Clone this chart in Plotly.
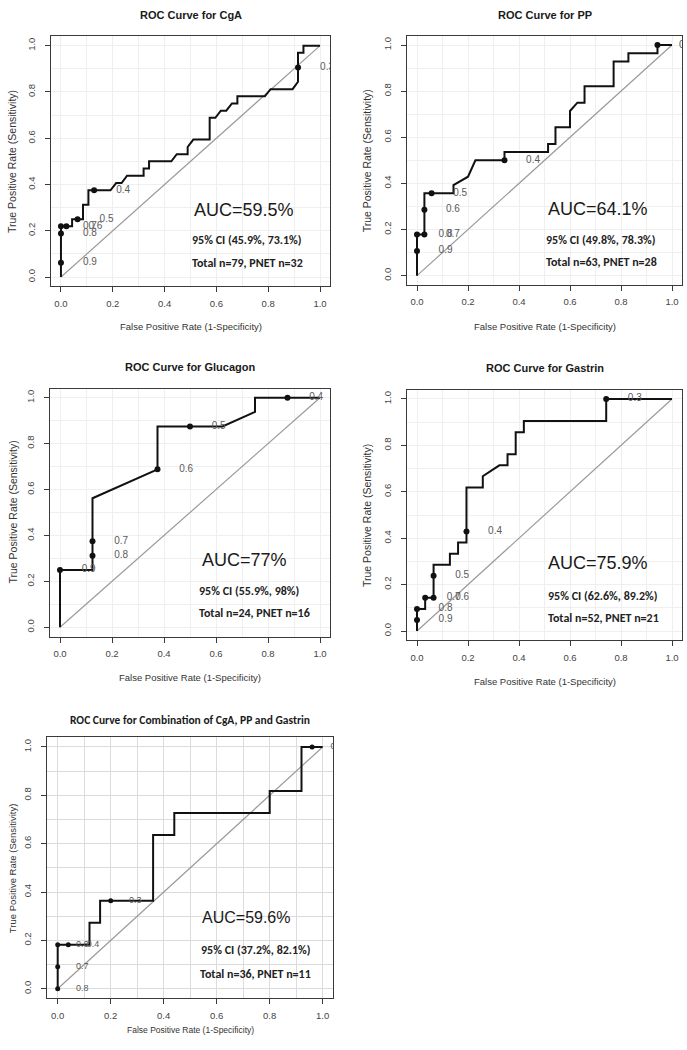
import plotly.graph_objects as go

W, H = 687, 1050

# ---------------- data ----------------
titles = ["ROC Curve for CgA", "ROC Curve for PP", "ROC Curve for Glucagon",
          "ROC Curve for Gastrin", "ROC Curve for Combination of CgA, PP and Gastrin"]
auc_text = ["AUC=59.5%", "AUC=64.1%", "AUC=77%", "AUC=75.9%", "AUC=59.6%"]
ci_text = ["95% CI (45.9%, 73.1%)", "95% CI (49.8%, 78.3%)", "95% CI (55.9%, 98%)",
           "95% CI (62.6%, 89.2%)", "95% CI (37.2%, 82.1%)"]
n_text = ["Total n=79, PNET n=32", "Total n=63, PNET n=28", "Total n=24, PNET n=16",
          "Total n=52, PNET n=21", "Total n=36, PNET n=11"]

cga_fpr = [0, 0, 0, 0, 0.021, 0.043, 0.043, 0.064, 0.085, 0.085, 0.106, 0.106, 0.128, 0.191,
           0.213, 0.234, 0.255, 0.319, 0.319, 0.340, 0.340, 0.426, 0.447, 0.489, 0.489, 0.511,
           0.574, 0.574, 0.596, 0.617, 0.638, 0.660, 0.681, 0.681, 0.787, 0.809, 0.894, 0.915,
           0.915, 0.915, 0.936, 0.936, 1.0]
cga_tpr = [0, 0.062, 0.188, 0.219, 0.219, 0.219, 0.250, 0.250, 0.250, 0.312, 0.312, 0.375, 0.375,
           0.375, 0.406, 0.406, 0.438, 0.438, 0.469, 0.469, 0.500, 0.500, 0.531, 0.531, 0.562,
           0.594, 0.594, 0.688, 0.688, 0.719, 0.719, 0.750, 0.750, 0.781, 0.781, 0.812, 0.812,
           0.844, 0.906, 0.969, 0.969, 1.0, 1.0]
cga_cut_fpr = [0, 0, 0, 0.021, 0.064, 0.128, 0.915]
cga_cut_tpr = [0.062, 0.188, 0.219, 0.219, 0.250, 0.375, 0.906]
cga_cut_lab = ["0.9", "0.8", "0.7", "0.6", "0.5", "0.4", "0.3"]

pp_fpr = [0, 0, 0, 0.029, 0.029, 0.029, 0.057, 0.143, 0.143, 0.200, 0.229, 0.343, 0.343, 0.514,
          0.514, 0.543, 0.543, 0.600, 0.600, 0.629, 0.657, 0.657, 0.771, 0.771, 0.829, 0.829,
          0.943, 0.943, 1.0]
pp_tpr = [0, 0.107, 0.179, 0.179, 0.286, 0.357, 0.357, 0.357, 0.393, 0.429, 0.500, 0.500, 0.536,
          0.536, 0.571, 0.571, 0.643, 0.643, 0.714, 0.750, 0.750, 0.821, 0.821, 0.929, 0.929,
          0.964, 0.964, 1.0, 1.0]
pp_cut_fpr = [0, 0, 0.029, 0.029, 0.057, 0.343, 0.943]
pp_cut_tpr = [0.107, 0.179, 0.179, 0.286, 0.357, 0.500, 1.0]
pp_cut_lab = ["0.9", "0.8", "0.7", "0.6", "0.5", "0.4", "0.3"]

glu_fpr = [0, 0, 0.125, 0.125, 0.125, 0.125, 0.375, 0.375, 0.500, 0.625, 0.750, 0.750, 0.875, 1.0]
glu_tpr = [0, 0.250, 0.250, 0.312, 0.375, 0.562, 0.688, 0.875, 0.875, 0.875, 0.938, 1.0, 1.0, 1.0]
glu_cut_fpr = [0, 0.125, 0.125, 0.375, 0.500, 0.875]
glu_cut_tpr = [0.250, 0.312, 0.375, 0.688, 0.875, 1.0]
glu_cut_lab = ["0.9", "0.8", "0.7", "0.6", "0.5", "0.4"]

gas_fpr = [0, 0, 0, 0.032, 0.032, 0.065, 0.065, 0.065, 0.129, 0.129, 0.161, 0.161, 0.194, 0.194,
           0.194, 0.258, 0.258, 0.323, 0.355, 0.355, 0.387, 0.387, 0.419, 0.419, 0.742, 0.742, 1.0]
gas_tpr = [0, 0.048, 0.095, 0.095, 0.143, 0.143, 0.238, 0.286, 0.286, 0.333, 0.333, 0.381, 0.381,
           0.429, 0.619, 0.619, 0.667, 0.714, 0.714, 0.762, 0.762, 0.857, 0.857, 0.905, 0.905,
           1.0, 1.0]
gas_cut_fpr = [0, 0, 0.032, 0.065, 0.065, 0.194, 0.742]
gas_cut_tpr = [0.048, 0.095, 0.143, 0.143, 0.238, 0.429, 1.0]
gas_cut_lab = ["0.9", "0.8", "0.7", "0.6", "0.5", "0.4", "0.3"]

comb_fpr = [0, 0, 0, 0.04, 0.12, 0.12, 0.16, 0.16, 0.20, 0.36, 0.36, 0.44, 0.44, 0.80, 0.80,
            0.92, 0.92, 0.96, 1.0]
comb_tpr = [0, 0.091, 0.182, 0.182, 0.182, 0.273, 0.273, 0.364, 0.364, 0.364, 0.636, 0.636,
            0.727, 0.727, 0.818, 0.818, 1.0, 1.0, 1.0]
comb_cut_fpr = [0, 0, 0, 0.04, 0.20, 0.96]
comb_cut_tpr = [0, 0.091, 0.182, 0.182, 0.364, 1.0]
comb_cut_lab = ["0.8", "0.7", "0.6", "0.4", "0.3", "0.2"]

tick_vals = [0, 0.2, 0.4, 0.6, 0.8, 1.0]
tick_text = ["0.0", "0.2", "0.4", "0.6", "0.8", "1.0"]

curves = [(cga_fpr, cga_tpr, cga_cut_fpr, cga_cut_tpr, cga_cut_lab),
          (pp_fpr, pp_tpr, pp_cut_fpr, pp_cut_tpr, pp_cut_lab),
          (glu_fpr, glu_tpr, glu_cut_fpr, glu_cut_tpr, glu_cut_lab),
          (gas_fpr, gas_tpr, gas_cut_fpr, gas_cut_tpr, gas_cut_lab),
          (comb_fpr, comb_tpr, comb_cut_fpr, comb_cut_tpr, comb_cut_lab)]

# ---------------- layout (pixel boxes of each plot region) ----------------
# left, top, right, bottom in pixels
boxes = [(50.6, 36.4, 330.4, 286.3),
         (406.8, 35.8, 682.2, 284.9),
         (49.6, 388.5, 330.4, 636.5),
         (406.8, 389.7, 682.2, 640.3),
         (47.1, 737.3, 333.3, 998.4)]
title_y = [15, 15, 367, 368, 720]
xtitle_y = [327, 326, 677, 681, 1030]
ytitle_x = [12.7, 367, 12, 367, 13.3]
# text block positions (data coords, left aligned)
auc_pos = [(0.505, 0.291), (0.505, 0.289), (0.537, 0.293), (0.507, 0.293), (0.537, 0.294)]
ci_pos = [(0.498, 0.158), (0.498, 0.156), (0.527, 0.158), (0.507, 0.149), (0.535, 0.160)]
n_pos = [(0.498, 0.060), (0.498, 0.058), (0.527, 0.061), (0.507, 0.056), (0.528, 0.063)]
lab_dx = [0.112, 0.112, 0.110, 0.112, 0.093]

ARIAL = "Liberation Sans, Arial, sans-serif"
CALIBRI = "Carlito, Lato, Calibri, sans-serif"


def fx(p):
    return p / W


def fy(p):
    return 1 - p / H


fig = go.Figure()
annotations = []

for i, (fpr, tpr, cfpr, ctpr, clab) in enumerate(curves):
    k = "" if i == 0 else str(i + 1)
    xa, ya = "x" + k, "y" + k
    small = (i == 4)
    # diagonal reference
    fig.add_trace(go.Scatter(x=[0, 1], y=[0, 1], xaxis=xa, yaxis=ya, mode="lines",
                             line=dict(color="#9a9a9a", width=1.2), hoverinfo="skip",
                             showlegend=False))
    # ROC curve
    fig.add_trace(go.Scatter(x=fpr, y=tpr, xaxis=xa, yaxis=ya, mode="lines",
                             line=dict(color="#111111", width=2), showlegend=False))
    # cutoff points
    fig.add_trace(go.Scatter(x=cfpr, y=ctpr, xaxis=xa, yaxis=ya, mode="markers",
                             marker=dict(color="#111111", size=5 if small else 6),
                             showlegend=False))
    # cutoff labels
    fig.add_trace(go.Scatter(x=[v + lab_dx[i] for v in cfpr], y=ctpr, xaxis=xa, yaxis=ya,
                             mode="text", text=clab, textposition="middle center",
                             cliponaxis=True,
                             textfont=dict(family=ARIAL, size=9 if small else 10, color="#5a5a5a"),
                             showlegend=False, hoverinfo="skip"))

    l, t, r, b = boxes[i]
    grid_col = "#dcdcdc" if small else "#efefef"
    axis_common = dict(range=[-0.04, 1.04], showline=True, mirror=True, linecolor="#3a3a3a",
                       linewidth=1, ticks="outside", ticklen=5, tickcolor="#3a3a3a",
                       tickvals=tick_vals, ticktext=tick_text, showgrid=True,
                       gridcolor=grid_col, gridwidth=1, zeroline=False,
                       tickfont=dict(family=ARIAL, size=9.5, color="#444444"),
                       ticklabeloverflow="allow",
                       minor=dict(tickvals=[0.1, 0.3, 0.5, 0.7, 0.9], showgrid=True,
                                  gridcolor=grid_col, ticks=""))
    fig.layout["xaxis" + k] = dict(axis_common, domain=[fx(l), fx(r)], anchor=ya,
                                    ticklabelstandoff=3)
    fig.layout["yaxis" + k] = dict(axis_common, domain=[fy(b), fy(t)], anchor=xa,
                                    tickangle=-90, ticklabelstandoff=6)

    # title
    annotations.append(dict(text="<b>%s</b>" % titles[i], x=fx((l + r) / 2), y=fy(title_y[i]),
                            xref="paper", yref="paper", showarrow=False, xanchor="center",
                            yanchor="middle",
                            font=dict(family=CALIBRI if small else ARIAL,
                                      size=11.5 if small else 11, color="#1a1a1a")))
    # axis titles
    annotations.append(dict(text="False Positive Rate (1-Specificity)", x=fx((l + r) / 2),
                            y=fy(xtitle_y[i]), xref="paper", yref="paper", showarrow=False,
                            xanchor="center", yanchor="middle",
                            font=dict(family=ARIAL, size=8.5 if small else 9.5, color="#333333")))
    annotations.append(dict(text="True Positive Rate (Sensitivity)", x=fx(ytitle_x[i]),
                            y=fy((t + b) / 2), xref="paper", yref="paper", showarrow=False,
                            xanchor="center", yanchor="middle", textangle=-90,
                            font=dict(family=ARIAL, size=9.5 if small else 10.5, color="#333333")))
    # AUC / CI / n texts
    annotations.append(dict(text=auc_text[i], x=auc_pos[i][0], y=auc_pos[i][1], xref=xa,
                            yref=ya, showarrow=False, xanchor="left", yanchor="middle",
                            font=dict(family=ARIAL, size=16 if small else 18, color="#1a1a1a")))
    annotations.append(dict(text="<b>%s</b>" % ci_text[i], x=ci_pos[i][0], y=ci_pos[i][1],
                            xref=xa, yref=ya, showarrow=False, xanchor="left", yanchor="middle",
                            font=dict(family=CALIBRI, size=12, color="#222222")))
    annotations.append(dict(text="<b>%s</b>" % n_text[i], x=n_pos[i][0], y=n_pos[i][1],
                            xref=xa, yref=ya, showarrow=False, xanchor="left", yanchor="middle",
                            font=dict(family=CALIBRI, size=12, color="#222222")))

fig.update_layout(width=W, height=H, margin=dict(l=0, r=0, t=0, b=0),
                  paper_bgcolor="white", plot_bgcolor="white",
                  annotations=annotations, showlegend=False)

fig.write_html("out.html", config={"displayModeBar": False},
               post_script="document.body.style.margin='0px';document.body.style.overflow='hidden';")
